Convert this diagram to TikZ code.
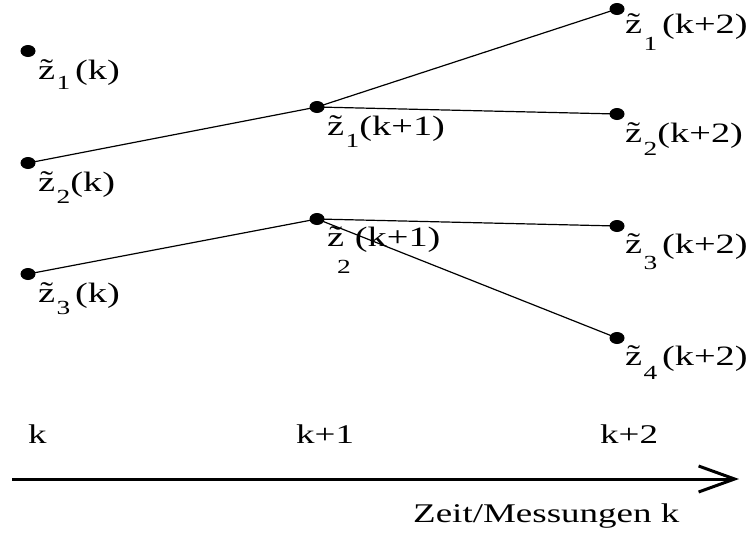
\documentclass[tikz,border=0pt]{standalone}
\usepackage{fontspec}
\setmainfont[FakeStretch=1.37]{Liberation Serif}
\usetikzlibrary{arrows.meta,shapes.geometric}
\newcommand{\subfnt}{\fontsize{20}{20}\selectfont}
\newcommand{\ztil}{\~{z}}
\newcommand{\zsub}[2]{\ztil\kern1.5pt\raisebox{-#2pt}{\subfnt #1}}
\begin{document}
\begin{tikzpicture}[x=1pt,y=-1pt,
  dot/.style={ellipse, fill=black, inner sep=0pt, minimum width=15pt, minimum height=12pt},
  edge/.style={line width=1.2pt},
  lbl/.style={anchor=base west, inner sep=0pt, font=\fontsize{28}{30}\selectfont},
  axlbl/.style={anchor=base west, inner sep=0pt, font=\fontsize{27}{29}\selectfont}]
\useasboundingbox[fill=white] (0,0) rectangle (749,533);
% dots
\node[dot] (a1) at (28,51) {};
\node[dot] (a2) at (28,163) {};
\node[dot] (a3) at (28,274) {};
\node[dot] (b1) at (317,107) {};
\node[dot] (b2) at (317,219) {};
\node[dot] (c1) at (617,9) {};
\node[dot] (c2) at (617,114) {};
\node[dot] (c3) at (617,226) {};
\node[dot] (c4) at (617,338) {};
% connectors
\draw[edge] (a2.center) -- (b1.center);
\draw[edge] (b1.center) -- (c1.center);
\draw[edge] (b1.center) -- (c2.center);
\draw[edge] (a3.center) -- (b2.center);
\draw[edge] (b2.center) -- (c3.center);
\draw[edge] (b2.center) -- (c4.center);
% labels
\node[lbl] (la1) at (38,79) {\zsub{1}{10}\,(k)};
\node[lbl] (la2) at (38,191) {\zsub{2}{12}(k)};
\node[lbl] (la3) at (38,302) {\zsub{3}{12}\,(k)};
\node[lbl] (lb1) at (327,135) {\zsub{1}{12}(k+1)};
\node[lbl] (lb2) at (327,246) {\ztil\kern-7pt\raisebox{-27pt}{\subfnt 2}\kern4pt(k+1)};
\node[lbl] (lc1) at (625,33) {\zsub{1}{17}\,(k+2)};
\node[lbl] (lc2) at (625,142) {\zsub{2}{13}(k+2)};
\node[lbl] (lc3) at (625,253) {\zsub{3}{16}\,(k+2)};
\node[lbl] (lc4) at (625,365) {\zsub{4}{14}\,(k+2)};
% time axis
\node[axlbl] (t0) at (28,443) {k};
\node[axlbl] (t1) at (296,443) {k+1};
\node[axlbl] (t2) at (600,443) {k+2};
\coordinate (s) at (12,479);
\coordinate (e) at (739,479);
\draw[line width=3pt, -{Straight Barb[length=36pt,width=26pt]}] (s) -- (e);
\node[axlbl] (zeit) at (413,522) {Zeit/Messungen k};
\end{tikzpicture}
\end{document}
